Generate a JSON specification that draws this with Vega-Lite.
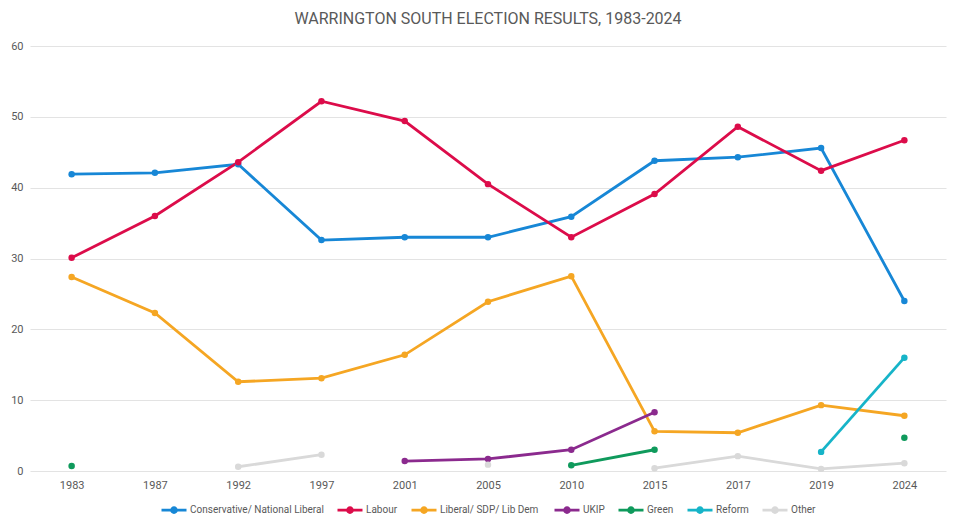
{
  "$schema": "https://vega.github.io/schema/vega-lite/v6.json",
  "width": 916,
  "height": 425,
  "padding": {"left": 10, "top": 11, "right": 14, "bottom": 5},
  "background": "white",
  "title": {
    "text": "WARRINGTON SOUTH ELECTION RESULTS, 1983-2024",
    "font": "Roboto",
    "fontSize": 16,
    "fontWeight": "normal",
    "color": "#595959",
    "anchor": "middle",
    "offset": 13
  },
  "data": {
    "values": [
      {"year": "1983", "party": "Conservative/ National Liberal", "pct": 41.9},
      {"year": "1987", "party": "Conservative/ National Liberal", "pct": 42.1},
      {"year": "1992", "party": "Conservative/ National Liberal", "pct": 43.3},
      {"year": "1997", "party": "Conservative/ National Liberal", "pct": 32.6},
      {"year": "2001", "party": "Conservative/ National Liberal", "pct": 33.0},
      {"year": "2005", "party": "Conservative/ National Liberal", "pct": 33.0},
      {"year": "2010", "party": "Conservative/ National Liberal", "pct": 35.9},
      {"year": "2015", "party": "Conservative/ National Liberal", "pct": 43.8},
      {"year": "2017", "party": "Conservative/ National Liberal", "pct": 44.3},
      {"year": "2019", "party": "Conservative/ National Liberal", "pct": 45.6},
      {"year": "2024", "party": "Conservative/ National Liberal", "pct": 24.0},
      {"year": "1983", "party": "Labour", "pct": 30.1},
      {"year": "1987", "party": "Labour", "pct": 36.0},
      {"year": "1992", "party": "Labour", "pct": 43.6},
      {"year": "1997", "party": "Labour", "pct": 52.2},
      {"year": "2001", "party": "Labour", "pct": 49.4},
      {"year": "2005", "party": "Labour", "pct": 40.5},
      {"year": "2010", "party": "Labour", "pct": 33.0},
      {"year": "2015", "party": "Labour", "pct": 39.1},
      {"year": "2017", "party": "Labour", "pct": 48.6},
      {"year": "2019", "party": "Labour", "pct": 42.4},
      {"year": "2024", "party": "Labour", "pct": 46.7},
      {"year": "1983", "party": "Liberal/ SDP/ Lib  Dem", "pct": 27.4},
      {"year": "1987", "party": "Liberal/ SDP/ Lib  Dem", "pct": 22.3},
      {"year": "1992", "party": "Liberal/ SDP/ Lib  Dem", "pct": 12.6},
      {"year": "1997", "party": "Liberal/ SDP/ Lib  Dem", "pct": 13.1},
      {"year": "2001", "party": "Liberal/ SDP/ Lib  Dem", "pct": 16.4},
      {"year": "2005", "party": "Liberal/ SDP/ Lib  Dem", "pct": 23.9},
      {"year": "2010", "party": "Liberal/ SDP/ Lib  Dem", "pct": 27.5},
      {"year": "2015", "party": "Liberal/ SDP/ Lib  Dem", "pct": 5.6},
      {"year": "2017", "party": "Liberal/ SDP/ Lib  Dem", "pct": 5.4},
      {"year": "2019", "party": "Liberal/ SDP/ Lib  Dem", "pct": 9.3},
      {"year": "2024", "party": "Liberal/ SDP/ Lib  Dem", "pct": 7.8},
      {"year": "2001", "party": "UKIP", "pct": 1.4},
      {"year": "2005", "party": "UKIP", "pct": 1.7},
      {"year": "2010", "party": "UKIP", "pct": 3.0},
      {"year": "2015", "party": "UKIP", "pct": 8.3},
      {"year": "1983", "party": "Green", "pct": 0.7},
      {"year": "1987", "party": "Green", "pct": null},
      {"year": "2010", "party": "Green", "pct": 0.8},
      {"year": "2015", "party": "Green", "pct": 3.0},
      {"year": "2017", "party": "Green", "pct": null},
      {"year": "2024", "party": "Green", "pct": 4.7},
      {"year": "2019", "party": "Reform", "pct": 2.7},
      {"year": "2024", "party": "Reform", "pct": 16.0},
      {"year": "1992", "party": "Other", "pct": 0.6},
      {"year": "1997", "party": "Other", "pct": 2.3},
      {"year": "2001", "party": "Other", "pct": null},
      {"year": "2005", "party": "Other", "pct": 0.9},
      {"year": "2010", "party": "Other", "pct": null},
      {"year": "2015", "party": "Other", "pct": 0.4},
      {"year": "2017", "party": "Other", "pct": 2.1},
      {"year": "2019", "party": "Other", "pct": 0.3},
      {"year": "2024", "party": "Other", "pct": 1.1}
    ]
  },
  "mark": {
    "type": "line",
    "strokeWidth": 2.8,
    "invalid": "break-paths-filter-domains",
    "point": {"filled": true, "size": 42}
  },
  "encoding": {
    "x": {
      "field": "year",
      "type": "ordinal",
      "title": null,
      "scale": {"type": "point", "padding": 0.5},
      "axis": {
        "labelAngle": 0,
        "domain": false,
        "ticks": false,
        "grid": false,
        "labelPadding": 8,
        "labelFont": "Roboto",
        "labelFontSize": 11,
        "labelColor": "#595959"
      }
    },
    "y": {
      "field": "pct",
      "type": "quantitative",
      "title": null,
      "scale": {"domain": [0, 60], "nice": false},
      "axis": {
        "values": [0, 10, 20, 30, 40, 50, 60],
        "domain": false,
        "ticks": false,
        "gridColor": "#e3e3e3",
        "gridWidth": 1,
        "labelPadding": 7,
        "labelFont": "Roboto",
        "labelFontSize": 11,
        "labelColor": "#595959"
      }
    },
    "color": {
      "field": "party",
      "type": "nominal",
      "title": null,
      "scale": {
        "domain": ["Conservative/ National Liberal", "Labour", "Liberal/ SDP/ Lib  Dem", "UKIP", "Green", "Reform", "Other"],
        "range": ["#1787d6", "#dc0c4a", "#f5a623", "#8b2a8e", "#0f9a5c", "#16b4c8", "#d9d9d9"]
      },
      "legend": {
        "orient": "bottom",
        "direction": "horizontal",
        "offset": 6,
        "symbolType": "M-1,0H1M0.2,0A0.2,0.2,0,1,1,-0.2,0A0.2,0.2,0,1,1,0.2,0Z",
        "symbolSize": 625,
        "symbolStrokeWidth": 2.6,
        "labelFont": "Roboto",
        "labelFontSize": 10,
        "labelColor": "#595959",
        "labelOffset": 2,
        "columnPadding": 8,
        "encode": {
          "symbols": {"update": {"fill": {"scale": "color", "field": "value"}}}
        }
      }
    }
  },
  "config": {
    "view": {"stroke": null},
    "legend": {"layout": {"bottom": {"anchor": "middle"}}}
  }
}
